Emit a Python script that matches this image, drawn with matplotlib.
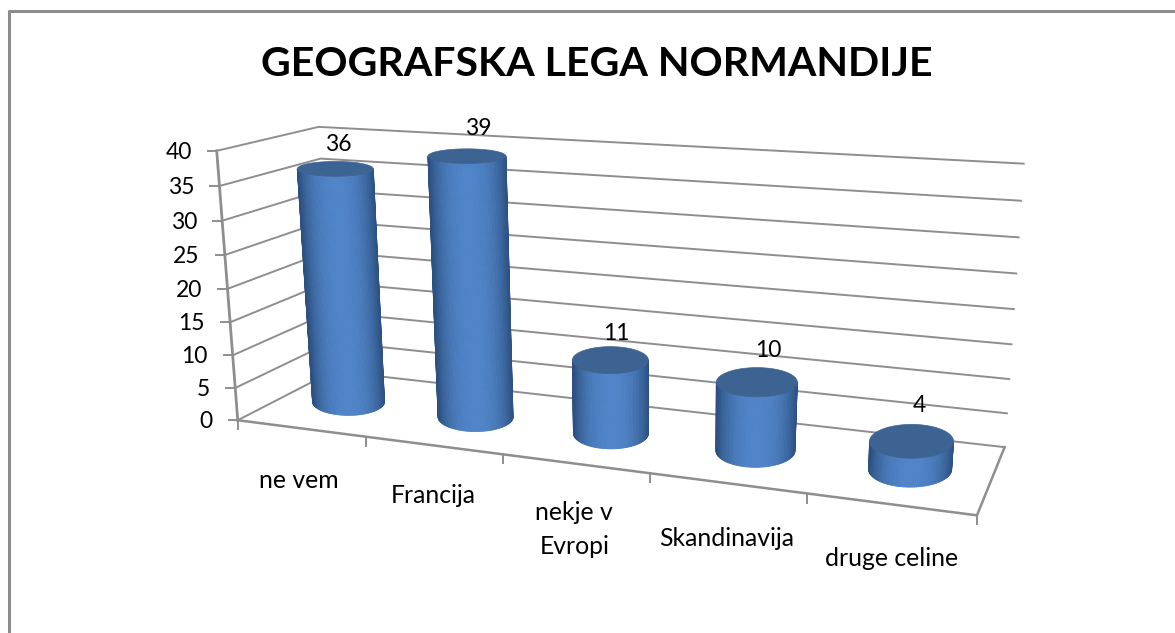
"""3D cylinder chart: GEOGRAFSKA LEGA NORMANDIJE."""
import numpy as np
import matplotlib
matplotlib.use("Agg")
import matplotlib.pyplot as plt
from matplotlib.collections import PolyCollection

plt.rcParams['font.family'] = ['Lato', 'DejaVu Sans']

TITLE = "GEOGRAFSKA LEGA NORMANDIJE"
categories = ["ne vem", "Francija", "nekje v\nEvropi", "Skandinavija", "druge celine"]
values = [36, 39, 11, 10, 4]
value_ticks = [0, 5, 10, 15, 20, 25, 30, 35, 40]

# pixel offsets for the text, relative to the projected marks
LABEL_OFFSETS = [(3, -24), (11, -28), (6, -27), (11, -32), (8, -36)]
CATEGORY_OFFSETS = [(-2, 52), (0, 50), (-1, 66), (-1, 55), (1, 54)]

# cylinder half widths in pixels, the picture's perspective is not a true one here
BASE_HALF_WIDTHS = [36, 37.5, 37.5, 39.5, 41.5]
TOP_HALF_WIDTHS = [38, 39, 38, 40.5, 42]

GRID = '#8e8e8e'
LIGHT = np.array([0x50, 0x84, 0xC8]) / 255
DARK = np.array([0x2C, 0x50, 0x80]) / 255
TOP = '#3C6392'

# camera calibration: (category, depth, value) -> pixel
CAL_WORLD = np.array([
    (0, 0, 0), (1, 0, 0), (2, 0, 0), (3, 0, 0), (4, 0, 0), (5, 0, 0),
    (0, 0, 40), (0, 0, 35), (0, 0, 5),
    (0, 1, 0), (0, 1, 40),
    (5, 1, 0), (5, 1, 5), (5, 1, 35), (5, 1, 40),
], dtype=float)
CAL_PIXEL = np.array([
    (237, 421), (365, 436), (503, 454), (650, 473), (807, 493), (978, 515),
    (218, 151), (220, 186), (235, 389),
    (335, 371), (317, 126),
    (1004, 447), (1007, 414), (1022, 201), (1023, 164),
], dtype=float)


def fit_camera(world, pixel):
    """Direct linear transform, returns a 3x4 projection matrix."""
    rows = []
    for (x, d, v), (u, w) in zip(world, pixel):
        p = [x, d, v, 1]
        rows.append(p + [0, 0, 0, 0] + [-u * c for c in p])
        rows.append([0, 0, 0, 0] + p + [-w * c for c in p])
    _, _, vt = np.linalg.svd(np.array(rows))
    return vt[-1].reshape(3, 4)


CAMERA = fit_camera(CAL_WORLD, CAL_PIXEL)


def project(x, d, v):
    """Project chart coordinates to pixel coordinates."""
    x, d, v = np.broadcast_arrays(x, d, v)
    pts = np.stack([x, d, v, np.ones_like(x, dtype=float)], axis=-1)
    h = pts @ CAMERA.T
    return h[..., 0] / h[..., 2], h[..., 1] / h[..., 2]


def disc_height(xc, dc, v, rd):
    """Half height of the cylinder disc at value v, in pixels."""
    _, w = project(xc, [dc - rd, dc + rd], float(v))
    return abs(w[1] - w[0]) / 2


def draw_cylinder(ax, i, value, rd=0.27):
    """Draw one cylinder with horizontal shading, discs kept level on screen."""
    xc, dc = i + 0.5, 0.5
    ub, wb = project(xc, dc, 0.0)
    ut, wt = project(xc, dc, float(value))
    base_w, top_w = BASE_HALF_WIDTHS[i], TOP_HALF_WIDTHS[i]
    base_h = disc_height(xc, dc, 0.0, rd)
    top_h = disc_height(xc, dc, value, rd)

    theta = np.linspace(0, np.pi, 61)
    quads, colors = [], []
    for k in range(len(theta) - 1):
        a, b = theta[k], theta[k + 1]
        quads.append([(ub + base_w * np.cos(a), wb + base_h * np.sin(a)),
                      (ub + base_w * np.cos(b), wb + base_h * np.sin(b)),
                      (ut + top_w * np.cos(b), wt + top_h * np.sin(b)),
                      (ut + top_w * np.cos(a), wt + top_h * np.sin(a))])
        t = 1 - abs(np.cos((a + b) / 2)) ** 2.4
        colors.append(DARK + (LIGHT - DARK) * t)
    ax.add_collection(PolyCollection(quads, facecolors=colors, edgecolors=colors,
                                     linewidths=0.6, zorder=3))

    full = np.linspace(0, 2 * np.pi, 121)
    ax.fill(ut + top_w * np.cos(full), wt + top_h * np.sin(full), color=TOP, lw=0.5, zorder=4)


def main():
    fig = plt.figure(figsize=(11.75, 6.33), dpi=100)
    ax = fig.add_axes([0, 0, 1, 1])
    ax.set_xlim(0, 1175)
    ax.set_ylim(633, 0)
    ax.axis('off')

    # chart border, only top and left are inside the picture
    ax.plot([9, 9, 1175], [633, 11, 11], color='#8c8c8c', lw=2.2, zorder=1)

    ax.text(597, 64, TITLE, fontsize=29.6, fontweight='bold', ha='center', va='center', color='black')

    # wall gridlines, side wall then back wall
    for v in value_ticks:
        u, w = project([0, 0, 5], [0, 1, 1], float(v))
        ax.plot(u, w, color=GRID, lw=1.4, zorder=2, solid_joinstyle='miter')
        # value axis tick and label
        u0, w0 = project(0.0, 0.0, float(v))
        ax.plot([u0 - 9, u0], [w0, w0], color=GRID, lw=1.4, zorder=2)
        ax.text(u0 - 25, w0 + 1.5, str(v), fontsize=16.5, ha='right', va='center')

    # value axis and floor edges
    u, w = project([0, 0], [0, 0], [0.0, 40.0])
    ax.plot(u, w, color=GRID, lw=2.0, zorder=2)
    u, w = project([0, 5, 5], [0, 0, 1], 0.0)
    ax.plot(u, w, color=GRID, lw=1.8, zorder=2)

    # category ticks
    for i in range(len(categories) + 1):
        u0, w0 = project(float(i), 0.0, 0.0)
        ax.plot([u0, u0], [w0, w0 + 9], color=GRID, lw=1.4, zorder=2)

    for i, value in enumerate(values):
        draw_cylinder(ax, i, value)

        # data label above the cylinder
        u0, w0 = project(i + 0.5, 0.5, float(value))
        dx, dy = LABEL_OFFSETS[i]
        ax.text(u0 + dx, w0 + dy, str(value), fontsize=16.5, ha='center', va='center', zorder=6)

        # category label below the floor
        u1, w1 = project(i + 0.5, 0.0, 0.0)
        dx, dy = CATEGORY_OFFSETS[i]
        ax.text(u1 + dx, w1 + dy, categories[i], fontsize=17.8, ha='center', va='center',
                linespacing=1.55)

    fig.savefig('out.png', dpi=100)
    plt.close(fig)


if __name__ == "__main__":
    main()
